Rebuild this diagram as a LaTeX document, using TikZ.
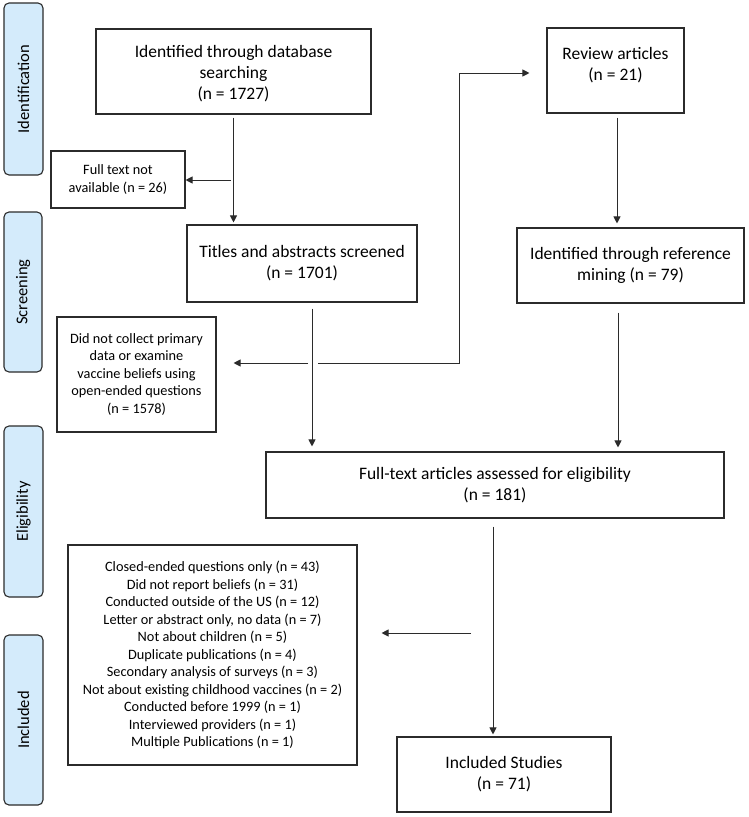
\documentclass[tikz,border=0pt]{standalone}
\usepackage{fontspec}
\setmainfont{Carlito}
\usetikzlibrary{arrows.meta,calc}
\definecolor{phasefill}{HTML}{D4EBFB}
\definecolor{linec}{HTML}{2B2B2B}
\tikzset{
 box/.style={draw=linec, line width=1.1pt, inner sep=0pt, align=center, font=\fontsize{17.5}{21}\selectfont},
 smallbox/.style={box, font=\fontsize{14.3}{17.5}\selectfont},
 boxtext/.style={inner sep=0pt, align=center, font=\fontsize{17.5}{21}\selectfont},
 phase/.style={draw=linec, fill=phasefill, rounded corners=5pt, line width=1.1pt, inner sep=0pt, rotate=90, font=\fontsize{16.5}{18}\selectfont},
 arr/.style={draw=linec, line width=1pt, -{Triangle[length=7pt,width=7pt]}},
}
\begin{document}
\begin{tikzpicture}[x=1pt,y=-1pt]
\useasboundingbox (0,0) rectangle (749,817);
% phase labels
\node[phase, minimum width=172pt, minimum height=39pt] (ident) at (23.5,89) {Identification};
\node[phase, minimum width=160pt, minimum height=38pt] (screen) at (23,292) {Screening};
\node[phase, minimum width=171pt, minimum height=39pt] (elig) at (23.5,511.5) {Eligibility};
\node[phase, minimum width=170pt, minimum height=39pt] (inclph) at (23.5,720) {Included};
% boxes
\node[box, minimum width=275pt, minimum height=85pt] (db) at (233.5,71.5) {};
\node[boxtext] (dbtext) at (233.5,74) {Identified through database\\searching\\(n = 1727)};
\node[smallbox, minimum width=134pt, minimum height=57pt] (fna) at (118,179.5) {Full text not\\available (n = 26)};
\node[box, minimum width=230pt, minimum height=77pt] (titles) at (302,263.5) {Titles and abstracts screened\\(n = 1701)};
\node[smallbox, minimum width=159pt, minimum height=115pt] (dnc) at (136.5,374.5) {Did not collect primary\\data or examine\\vaccine beliefs using\\open-ended questions\\(n = 1578)};
\node[box, minimum width=137pt, minimum height=85pt] (review) at (615.5,70.5) {};
\node[boxtext] (reviewtext) at (615.5,65) {Review articles\\(n = 21)};
\node[box, minimum width=227pt, minimum height=75pt] (refm) at (630.5,265.5) {Identified through reference\\mining (n = 79)};
\node[box, minimum width=458pt, minimum height=66pt] (full) at (495,485) {Full-text articles assessed for eligibility\\(n = 181)};
\node[smallbox, minimum width=289pt, minimum height=220pt] (excl) at (212.5,655) {Closed-ended questions only (n = 43)\\Did not report beliefs (n = 31)\\Conducted outside of the US (n = 12)\\Letter or abstract only, no data (n = 7)\\Not about children (n = 5)\\Duplicate publications (n = 4)\\Secondary analysis of surveys (n = 3)\\Not about existing childhood vaccines (n = 2)\\Conducted before 1999 (n = 1)\\Interviewed providers (n = 1)\\Multiple Publications (n = 1)};
\node[box, minimum width=214pt, minimum height=75pt] (incl) at (504,774.5) {Included Studies\\(n = 71)};
% junction coordinates
\coordinate (b1) at (231,180);
\coordinate (tx) at (312,363);
\coordinate (b2) at (308,363);
\coordinate (b3) at (318,363);
\coordinate (k) at (459,73);
\coordinate (rx) at (617,0);
\coordinate (mx) at (618,0);
\coordinate (fx) at (493,633);
\coordinate (b4) at (471,633);
% connectors
\draw[arr] ([yshift=-3pt]db.south) -- ([yshift=2pt]db.south |- titles.north);
\draw[arr] (b1) -- (fna.east |- b1);
\draw[arr] ([yshift=-6pt]titles.south -| tx) -- ([yshift=5pt]full.north -| tx);
\draw[arr] (b2) -- ([xshift=17pt]dnc.east |- b2);
\draw[arr] (b3) -| (k) -- ([xshift=-17pt]review.west |- k);
\draw[arr] ([yshift=-4pt]review.south -| rx) -- ([yshift=4pt]refm.north -| rx);
\draw[arr] ([yshift=-9pt]refm.south -| mx) -- ([yshift=4pt]full.north -| mx);
\draw[arr] ([yshift=-8pt]full.south -| fx) -- ([yshift=2pt]incl.north -| fx);
\draw[arr] (b4) -- ([xshift=24pt]excl.east |- b4);
\end{tikzpicture}
\end{document}
